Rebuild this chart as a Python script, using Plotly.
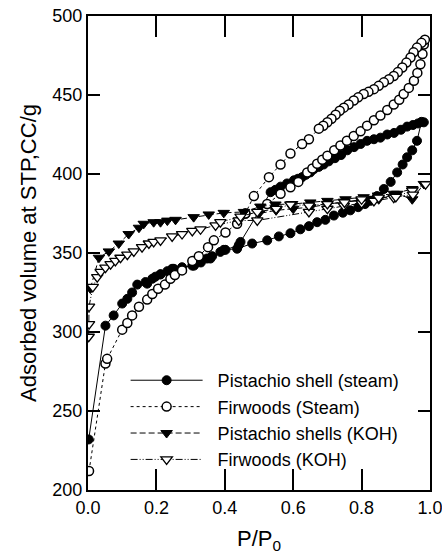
import plotly.graph_objects as go

# Pistachio shell (steam): adsorption then desorption
ps_x = [0.002, 0.051, 0.075, 0.1, 0.115, 0.129, 0.144, 0.168, 0.188, 0.212, 0.232, 0.246,
        0.275, 0.305, 0.33, 0.358, 0.397, 0.436, 0.48, 0.524, 0.558, 0.592, 0.621, 0.646,
        0.67, 0.694, 0.719, 0.745, 0.767, 0.79, 0.81, 0.826, 0.845, 0.865, 0.885, 0.904,
        0.92, 0.933, 0.948, 0.962, 0.975,
        0.982, 0.965, 0.95, 0.933, 0.915, 0.895, 0.875, 0.855, 0.836, 0.816, 0.797, 0.778,
        0.758, 0.74, 0.722, 0.704, 0.689, 0.675, 0.66, 0.65, 0.637, 0.626, 0.614, 0.602,
        0.582, 0.563, 0.548, 0.534, 0.446, 0.441, 0.402, 0.387, 0.363, 0.348, 0.31, 0.251,
        0.212, 0.197, 0.173]
ps_y = [232, 304, 310.5, 318, 321, 325, 330, 331.6, 333.7, 336.5, 338.5, 340,
        341, 342, 344, 346.5, 352, 352.7, 356, 358, 360.5, 362.5, 365, 367,
        369.5, 371, 373.7, 375.5, 377, 379, 381, 383, 386, 390.5, 395, 401,
        406, 410.6, 415, 421, 433,
        432.7, 432, 431, 430, 428, 426, 425, 423, 422, 421, 419, 417,
        415, 412, 410, 408, 406, 404.5, 403, 401, 399.5, 398, 397, 396,
        394, 392, 390, 388.5, 357, 355, 352, 350.7, 348, 346.5, 342, 340,
        336.5, 335, 330.6]

# Firwoods (Steam): adsorption then desorption
fs_x = [0.003, 0.051, 0.056, 0.1, 0.115, 0.129, 0.149, 0.173, 0.188, 0.205, 0.225, 0.241,
        0.254, 0.275, 0.305, 0.324, 0.351, 0.368, 0.402, 0.436, 0.46, 0.524, 0.563, 0.592,
        0.615, 0.641, 0.656, 0.67, 0.685, 0.7, 0.72, 0.738, 0.757, 0.777, 0.797, 0.816,
        0.836, 0.855, 0.875, 0.894, 0.91, 0.923, 0.938, 0.953, 0.963, 0.972, 0.978, 0.982,
        0.985, 0.975, 0.962, 0.952, 0.943, 0.931, 0.919, 0.906, 0.894, 0.88, 0.865, 0.85,
        0.836, 0.82, 0.806, 0.79, 0.777, 0.762, 0.748, 0.736, 0.724, 0.712, 0.7, 0.688,
        0.675, 0.646, 0.626, 0.592, 0.563, 0.529, 0.485, 0.46]
fs_y = [212, 280, 283, 301.5, 305.7, 310.5, 316, 320.5, 324, 327.4, 330, 333.7,
        336, 339, 345, 348, 353.7, 358, 363, 368.5, 375, 381, 387.5, 391.6,
        395, 401, 403.5, 406.5, 409, 411.6, 415, 418, 421, 424, 427, 430.6,
        434, 437, 440.5, 444, 447, 450.6, 454.5, 459, 464, 469.5, 476, 482,
        485, 483, 480, 477, 473.7, 470.5, 467.4, 464.5, 462, 460, 458, 455.8,
        453.7, 452, 450.6, 448.5, 446.5, 444, 442, 440, 437.5, 435, 432.7, 430.5,
        428.7, 422, 419, 413, 406, 398, 386, 375]

# Pistachio shells (KOH)
pk_x = [0.007, 0.032, 0.061, 0.09, 0.119, 0.149, 0.163, 0.192, 0.212, 0.232, 0.256, 0.309,
        0.353, 0.397, 0.456, 0.504, 0.548, 0.597, 0.65, 0.7, 0.753, 0.806, 0.848, 0.894,
        0.948, 0.982,
        0.948, 0.904, 0.85, 0.8, 0.748, 0.7, 0.65, 0.6, 0.55, 0.5]
pk_y = [327.5, 347, 351, 356, 362, 366, 368.5, 369.5, 369.5, 370.5, 371, 372.7,
        374.4, 375.4, 376, 379.4, 380.7, 381, 382, 383, 384, 385.3, 386.4, 387.5,
        390.5, 393.7,
        384, 387.5, 384, 383, 382.5, 381, 379, 378, 377, 375]

# Firwoods (KOH)
fk_x = [0.002, 0.003, 0.003, 0.014, 0.027, 0.037, 0.051, 0.066, 0.08, 0.095, 0.115, 0.134,
        0.158, 0.178, 0.192, 0.212, 0.246, 0.275, 0.305, 0.329, 0.373, 0.441, 0.495, 0.646,
        0.7, 0.748, 0.8, 0.836, 0.894, 0.948, 0.987,
        0.95, 0.9, 0.85, 0.8, 0.75, 0.7, 0.646, 0.592, 0.55, 0.495, 0.446, 0.387]
fk_y = [297, 305, 316, 328.5, 334.7, 338, 340.7, 343, 345, 347, 349, 351,
        353.7, 356, 357, 358, 360.5, 362, 364, 365, 367.5, 370.6, 370.6, 376,
        378, 380, 381.5, 383, 385, 389.5, 393.5,
        387, 385.5, 385, 384, 382, 381, 380, 380.7, 378, 376, 373, 369.5]

x_ticks = [0, 0.2, 0.4, 0.6, 0.8, 1.0]
x_tick_labels = ["0.0", "0.2", "0.4", "0.6", "0.8", "1.0"]
y_ticks = [200, 250, 300, 350, 400, 450, 500]

names = ["Pistachio shell (steam)", "Firwoods (Steam)", "Pistachio shells (KOH)", "Firwoods (KOH)"]

FONT = "Liberation Sans, Arial, sans-serif"
PAD = "\u00a0\u00a0"

fig = go.Figure()
fig.add_trace(go.Scatter(x=ps_x, y=ps_y, mode="lines+markers", name=PAD + names[0],
                         line=dict(color="black", width=1, dash="solid"),
                         marker=dict(symbol="circle", size=9, color="black",
                                     line=dict(color="black", width=1))))
fig.add_trace(go.Scatter(x=fs_x, y=fs_y, mode="lines+markers", name=PAD + names[1],
                         line=dict(color="black", width=1, dash="dot"),
                         marker=dict(symbol="circle", size=9, color="white",
                                     line=dict(color="black", width=1.5))))
fig.add_trace(go.Scatter(x=pk_x, y=pk_y, mode="lines+markers", name=PAD + names[2],
                         line=dict(color="black", width=1, dash="6px,3px"),
                         marker=dict(symbol="triangle-down", size=10, color="black",
                                     line=dict(color="black", width=1))))
fig.add_trace(go.Scatter(x=fk_x, y=fk_y, mode="lines+markers", name=PAD + names[3],
                         line=dict(color="black", width=1, dash="7px,2px,1px,2px,1px,2px"),
                         marker=dict(symbol="triangle-down", size=10, color="white",
                                     line=dict(color="black", width=1.3))))

axis_common = dict(showgrid=False, zeroline=False, showline=True, linecolor="black",
                   linewidth=2, mirror="ticks", ticks="inside", tickcolor="black",
                   tickwidth=2, automargin=False, ticklabeloverflow="allow",
                   tickfont=dict(family=FONT, size=18, color="black"))

fig.update_xaxes(range=[0, 1.0], tickvals=x_ticks, ticktext=x_tick_labels, ticklen=21,
                 title=dict(text="P/P<sub>0</sub>", font=dict(family=FONT, size=22, color="black"),
                            standoff=22),
                 **axis_common)
fig.update_yaxes(range=[200, 500], tickvals=y_ticks, ticklen=12,
                 title=dict(text="Adsorbed volume at STP,CC/g",
                            font=dict(family=FONT, size=22, color="black"), standoff=10),
                 **axis_common)

fig.update_layout(
    width=442, height=554,
    margin=dict(l=88, r=12, t=16, b=64),
    paper_bgcolor="white", plot_bgcolor="white",
    font=dict(family=FONT, size=18, color="black"),
    showlegend=True,
    legend=dict(x=0.11, y=0.27, xanchor="left", yanchor="top", bgcolor="rgba(0,0,0,0)",
                font=dict(family=FONT, size=18, color="black"), itemwidth=72,
                tracegroupgap=0),
)

fig.write_html("out.html")
